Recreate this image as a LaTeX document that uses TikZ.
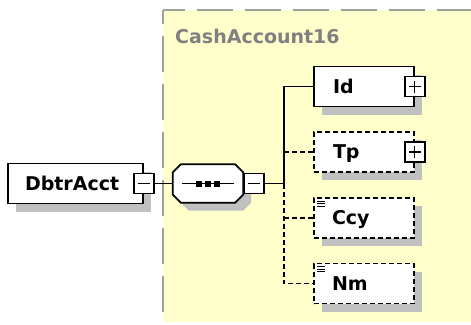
\documentclass[tikz,border=0pt]{standalone}
\usepackage{fontspec}
\setmainfont{DejaVu Sans}
\usetikzlibrary{shadows}
\definecolor{cashyellow}{HTML}{FFFFCC}
\definecolor{framegray}{HTML}{A0A0A0}
\definecolor{labelgray}{HTML}{808080}
\definecolor{shadowgray}{HTML}{C0C0C0}

\begin{document}
\begin{tikzpicture}[x=1pt,y=-1pt,
    every node/.style={font=\bfseries\fontsize{19}{22}\selectfont},
    castshadow/.style={drop shadow={shadow xshift=8pt,shadow yshift=-8pt,fill=shadowgray,opacity=1}},
    elem/.style={castshadow,draw,line width=1.7pt,fill=white,minimum width=100pt,minimum height=40pt,
      inner xsep=19pt,text width=62pt,align=left,text height=14pt,text depth=1pt},
    optelem/.style={elem,dash pattern=on 5pt off 3pt},
    signbox/.style={draw,line width=1.6pt,fill=white,minimum size=20pt,inner sep=0pt},
    collapsebox/.style={signbox,path picture={
      \draw[line width=1.2pt] ([xshift=4pt]path picture bounding box.west) -- ([xshift=-4pt]path picture bounding box.east);}},
    expandbox/.style={signbox,path picture={
      \draw[line width=1.2pt] ([xshift=4pt]path picture bounding box.west) -- ([xshift=-4pt]path picture bounding box.east);
      \draw[line width=1.2pt] ([yshift=4pt]path picture bounding box.south) -- ([yshift=-4pt]path picture bounding box.north);}},
    optline/.style={line width=1.6pt,dash pattern=on 5pt off 3pt}]
    \useasboundingbox (0,0) rectangle (471,324);

    % cash account frame
    \fill[cashyellow] (163,10) rectangle (471,322);
    \draw[framegray,line width=2pt,dash pattern=on 36pt off 12pt,dash phase=14pt] (163,10) -- (471,10);
    \draw[framegray,line width=2pt,dash pattern=on 36pt off 12pt] (163,312) -- (163,10);
    \node[text=labelgray,anchor=base west,inner sep=0pt] (cashlabel) at (175,43) {CashAccount16};

    % root element
    \node[elem,minimum width=135pt,inner xsep=17pt,text width=101pt] (dbtr) at (75.5,183.5) {DbtrAcct};
    \node[collapsebox] (dbtrsign) at (dbtr.east) {};

    % sequence
    \node[minimum width=70pt,minimum height=38pt,inner sep=0pt] (seq) at (208,183.5) {};
    \draw[castshadow,fill=white,line width=1.7pt]
        ([xshift=8pt]seq.north west) -- ([xshift=-8pt]seq.north east) -- ([yshift=-8pt]seq.north east)
        -- ([yshift=8pt]seq.south east) -- ([xshift=-8pt]seq.south east) -- ([xshift=8pt]seq.south west)
        -- ([yshift=8pt]seq.south west) -- ([yshift=-8pt]seq.north west) -- cycle;
    \draw[line width=1.2pt] ([xshift=-26pt]seq.center) -- ([xshift=26pt]seq.center);
    \foreach \dx in {-9,0,9}
        \fill ([xshift=\dx pt]seq.center) ++(-3pt,-3pt) rectangle ++(6pt,6pt);
    \node[collapsebox,anchor=west] (seqsign) at (seq.east) {};

    % children
    \node[elem] (id) at (364,86.5) {Id};
    \node[expandbox] (idsign) at (id.east) {};
    \node[optelem] (tp) at (364,152) {Tp};
    \node[expandbox] (tpsign) at (tp.east) {};
    \node[optelem,inner xsep=18pt,text width=64pt] (ccy) at (364,218) {Ccy};
    \node[optelem,inner xsep=18pt,text width=64pt] (nm) at (364,283.5) {Nm};
    \foreach \n in {ccy,nm}
        \foreach \dy in {4,6.5,9}
            \draw[line width=0.8pt] ([xshift=4pt,yshift=-\dy pt]\n.north west) -- ++(8pt,0);

    % connectors
    \coordinate (trunk) at (284,183.5);
    \draw[line width=1.6pt] (dbtrsign.east) -- (seq.west);
    \draw[line width=1.6pt] (seqsign.east) -- (trunk) |- (id.west);
    \draw[optline] (trunk) |- (nm.west);
    \draw[optline] (trunk |- tp.west) -- (tp.west);
    \draw[optline] (trunk |- ccy.west) -- (ccy.west);
\end{tikzpicture}
\end{document}
